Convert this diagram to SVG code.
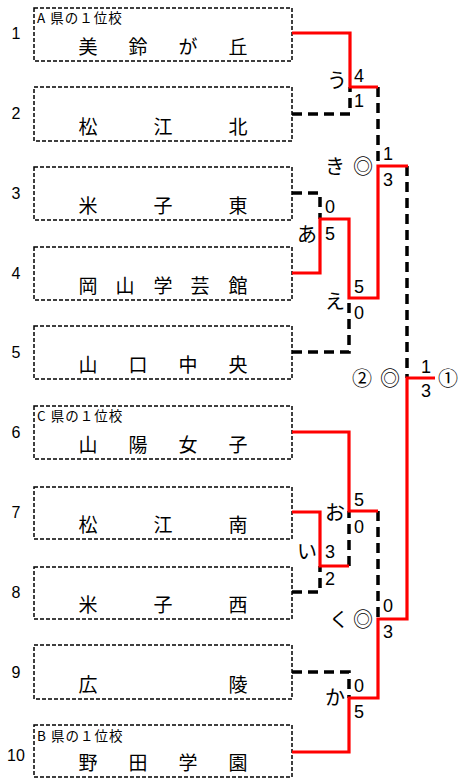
<svg xmlns="http://www.w3.org/2000/svg" width="461" height="778" viewBox="0 0 461 778">
<style>
.box{fill:#fff;stroke:#000;stroke-width:1.5;stroke-dasharray:4 2}
.num{font-family:"Liberation Sans",Arial,sans-serif;font-size:16px;fill:#000;text-anchor:middle}
.name{font-family:"Noto Sans CJK JP","Noto Sans CJK SC",sans-serif;font-size:19px;fill:#000;text-anchor:middle}
.lab{font-family:"Noto Sans CJK JP","Noto Sans CJK SC",sans-serif;font-size:13.5px;letter-spacing:1px;fill:#000}
.sc{font-family:"Liberation Sans",Arial,sans-serif;font-size:18px;fill:#000}
.kana{font-family:"Noto Sans CJK JP","Noto Sans CJK SC",sans-serif;font-size:20px;fill:#000;text-anchor:middle}
.win{fill:none;stroke:#ff0000;stroke-width:3.2}
.lose{fill:none;stroke:#000;stroke-width:3.5;stroke-dasharray:10 6}
</style>
<rect width="461" height="778" fill="#fff"/>

<g id="team1">
<rect class="box" x="34" y="8" width="258" height="53"/>
<text class="num" x="16" y="39">1</text>
<text class="lab" x="37" y="23">A 県の１位校</text>
<text class="name" x="88 138 188 238" y="54">美鈴が丘</text>
</g>
<g id="team2">
<rect class="box" x="34" y="87" width="258" height="54"/>
<text class="num" x="16" y="119">2</text>
<text class="name" x="88 163 238" y="134">松江北</text>
</g>
<g id="team3">
<rect class="box" x="34" y="167" width="258" height="53"/>
<text class="num" x="16" y="199">3</text>
<text class="name" x="88 163 238" y="213">米子東</text>
</g>
<g id="team4">
<rect class="box" x="34" y="247" width="258" height="53"/>
<text class="num" x="16" y="279">4</text>
<text class="name" x="88 125 163 200 238" y="293">岡山学芸館</text>
</g>
<g id="team5">
<rect class="box" x="34" y="326" width="258" height="53"/>
<text class="num" x="16" y="358">5</text>
<text class="name" x="88 138 188 238" y="372">山口中央</text>
</g>
<g id="team6">
<rect class="box" x="34" y="406" width="258" height="53"/>
<text class="num" x="16" y="438">6</text>
<text class="lab" x="37" y="421">C 県の１位校</text>
<text class="name" x="88 138 188 238" y="452">山陽女子</text>
</g>
<g id="team7">
<rect class="box" x="34" y="487" width="258" height="52"/>
<text class="num" x="16" y="518">7</text>
<text class="name" x="88 163 238" y="532">松江南</text>
</g>
<g id="team8">
<rect class="box" x="34" y="567" width="258" height="52"/>
<text class="num" x="16" y="598">8</text>
<text class="name" x="88 163 238" y="612">米子西</text>
</g>
<g id="team9">
<rect class="box" x="34" y="645" width="258" height="54"/>
<text class="num" x="16" y="678">9</text>
<text class="name" x="88 238" y="692">広陵</text>
</g>
<g id="team10">
<rect class="box" x="34" y="725" width="258" height="52"/>
<text class="num" x="16" y="761">10</text>
<text class="lab" x="37" y="741">B 県の１位校</text>
<text class="name" x="88 138 188 238" y="770">野田学園</text>
</g>

<g id="connectors">
<path class="lose" d="M292 114H350V87"/>
<path class="lose" d="M378 87V166"/>
<path class="lose" d="M292 193H320V219"/>
<path class="lose" d="M292 352H349V298"/>
<path class="lose" d="M407 166V378"/>
<path class="lose" d="M292 592H320V566"/>
<path class="lose" d="M349 566V511"/>
<path class="lose" d="M378 511V619"/>
<path class="lose" d="M292 672H349V698"/>
<path class="win" d="M292 33H350V87H378"/>
<path class="win" d="M292 273H320V219H349V298H378V166H408"/>
<path class="win" d="M292 432H349V511H378"/>
<path class="win" d="M292 512H320V566H349"/>
<path class="win" d="M292 752H349V698H378V619H407V378H435"/>
</g>

<g id="labels">
<text class="sc" x="354" y="82">4</text>
<text class="sc" x="354" y="107">1</text>
<text class="kana" x="337" y="88">う</text>

<text class="sc" x="383" y="160">1</text>
<text class="sc" x="383" y="186">3</text>
<text class="kana" x="335" y="174">き</text>
<text class="kana" x="363" y="174">◎</text>

<text class="sc" x="325" y="213">0</text>
<text class="sc" x="325" y="240">5</text>
<text class="kana" x="307" y="242">あ</text>

<text class="sc" x="354" y="293">5</text>
<text class="sc" x="354" y="319">0</text>
<text class="kana" x="335" y="309">え</text>

<text class="sc" x="426" y="373" text-anchor="middle">1</text>
<text class="sc" x="426" y="397" text-anchor="middle">3</text>
<text class="kana" x="362" y="386">②</text>
<text class="kana" x="390" y="386">◎</text>
<text class="kana" x="448" y="386">①</text>

<text class="sc" x="354" y="506">5</text>
<text class="sc" x="354" y="533">0</text>
<text class="kana" x="335" y="520">お</text>

<text class="sc" x="325" y="558">3</text>
<text class="sc" x="325" y="585">2</text>
<text class="kana" x="307" y="559">い</text>

<text class="sc" x="383" y="612">0</text>
<text class="sc" x="383" y="638">3</text>
<text class="kana" x="339" y="627">く</text>
<text class="kana" x="363" y="627">◎</text>

<text class="sc" x="354" y="692">0</text>
<text class="sc" x="354" y="718">5</text>
<text class="kana" x="335" y="705">か</text>
</g>
</svg>
